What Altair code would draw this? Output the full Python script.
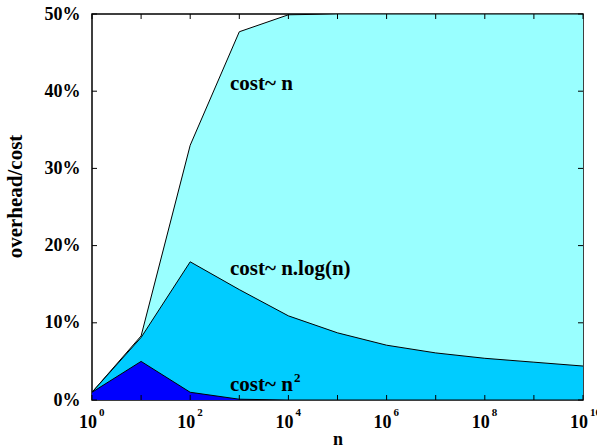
import altair as alt
import pandas as pd

# n = 10^exp
exponents = [0, 1, 2, 3, 4, 5, 6, 7, 8, 9, 10]
cost_n = [1.0, 8.3, 33.0, 47.7, 49.9, 50.0, 50.0, 50.0, 50.0, 50.0, 50.0]
cost_nlogn = [1.0, 8.1, 17.9, 14.3, 10.9, 8.7, 7.1, 6.1, 5.4, 4.9, 4.4]
cost_n2 = [1.0, 5.0, 1.0, 0.1, 0.0, 0.0, 0.0, 0.0, 0.0, 0.0, 0.0]
series_names = ["cost~ n", "cost~ n.log(n)", "cost~ n^2"]
series_colors = ["#99FFFF", "#00CCFF", "#0000FF"]

y_ticks = [0, 10, 20, 30, 40, 50]
x_label_exps = [0, 2, 4, 6, 8, 10]

ann_x = [2.81, 2.81, 2.81]
ann_y = [40.2, 16.2, 1.2]
ann_text = ["cost~ n", "cost~ n.log(n)", "cost~ n"]
ann_sup = ["", "", "2"]

FONT = "Liberation Serif"
W, H = 491, 386

rows = []
for name, vals in zip(series_names, [cost_n, cost_nlogn, cost_n2]):
    for e, v in zip(exponents, vals):
        rows.append({"series": name, "exp": e, "pct": v})
df = pd.DataFrame(rows)

x_scale = alt.Scale(domain=[0, 10], nice=False, zero=False)
y_scale = alt.Scale(domain=[0, 50], nice=False)

x_axis = alt.Axis(title="n", labels=False, ticks=False, domain=False, grid=False,
                  titlePadding=30, titleFont=FONT, titleFontSize=18,
                  titleFontWeight="bold", titleColor="black")
y_axis = alt.Axis(values=y_ticks, labelExpr="datum.value + '%'", ticks=False,
                  domain=False, grid=False, labelPadding=12, labelFont=FONT,
                  labelFontSize=18, labelFontWeight="bold", labelColor="black",
                  labelFlush=False, labelOverlap=False,
                  title="overhead/cost", titleFont=FONT, titleFontSize=21,
                  titleFontWeight="bold", titleColor="black", titlePadding=19,
                  titleY=182)

layers = []
for name, color in zip(series_names, series_colors):
    layers.append(
        alt.Chart(df).transform_filter(alt.datum.series == name)
        .mark_area(color=color, opacity=1, clip=True,
                   line={"color": "black", "strokeWidth": 1})
        .encode(x=alt.X("exp:Q", scale=x_scale, axis=x_axis),
                y=alt.Y("pct:Q", scale=y_scale, stack=None, axis=y_axis))
    )

xt = pd.DataFrame({"exp": exponents})
yt = pd.DataFrame({"pct": y_ticks})
tick_style = dict(color="black", strokeWidth=1)
ticks = [
    alt.Chart(xt).mark_rule(**tick_style).encode(
        x=alt.X("exp:Q", scale=x_scale), y=alt.value(H), y2=alt.value(H - 5)),
    alt.Chart(xt).mark_rule(**tick_style).encode(
        x=alt.X("exp:Q", scale=x_scale), y=alt.value(0), y2=alt.value(5)),
    alt.Chart(yt).mark_rule(**tick_style).encode(
        y=alt.Y("pct:Q", scale=y_scale), x=alt.value(0), x2=alt.value(5)),
    alt.Chart(yt).mark_rule(**tick_style).encode(
        y=alt.Y("pct:Q", scale=y_scale), x=alt.value(W), x2=alt.value(W - 5)),
]

lbl = pd.DataFrame({"exp": x_label_exps, "base": ["10"] * len(x_label_exps),
                    "sup": [str(e) for e in x_label_exps]})
xlabels = [
    alt.Chart(lbl).mark_text(font=FONT, fontSize=18, fontWeight="bold", align="right",
                             baseline="alphabetic", dx=5, color="black").encode(
        x=alt.X("exp:Q", scale=x_scale), y=alt.value(H + 28), text="base:N"),
    alt.Chart(lbl).mark_text(font=FONT, fontSize=11, fontWeight="bold", align="left",
                             baseline="alphabetic", dx=7, color="black").encode(
        x=alt.X("exp:Q", scale=x_scale), y=alt.value(H + 16), text="sup:N"),
]

ann = pd.DataFrame({"exp": ann_x, "pct": ann_y, "text": ann_text, "sup": ann_sup})
annotations = [
    alt.Chart(ann).mark_text(font=FONT, fontSize=21, fontWeight="bold", align="left",
                             baseline="alphabetic", color="black").encode(
        x=alt.X("exp:Q", scale=x_scale), y=alt.Y("pct:Q", scale=y_scale), text="text:N"),
    alt.Chart(ann).mark_text(font=FONT, fontSize=13, fontWeight="bold", align="left",
                             baseline="alphabetic", dx=64, dy=-9, color="black").encode(
        x=alt.X("exp:Q", scale=x_scale), y=alt.Y("pct:Q", scale=y_scale), text="sup:N"),
]

chart = alt.layer(*layers, *ticks, *xlabels, *annotations).properties(
    width=W, height=H,
    autosize=alt.AutoSizeParams(type="none"),
    padding={"left": 92, "top": 14, "right": 14, "bottom": 48},
    background="white",
).configure_view(stroke="black", strokeWidth=1.5)

chart.save("out.html", embed_options={"renderer": "svg", "actions": False})
